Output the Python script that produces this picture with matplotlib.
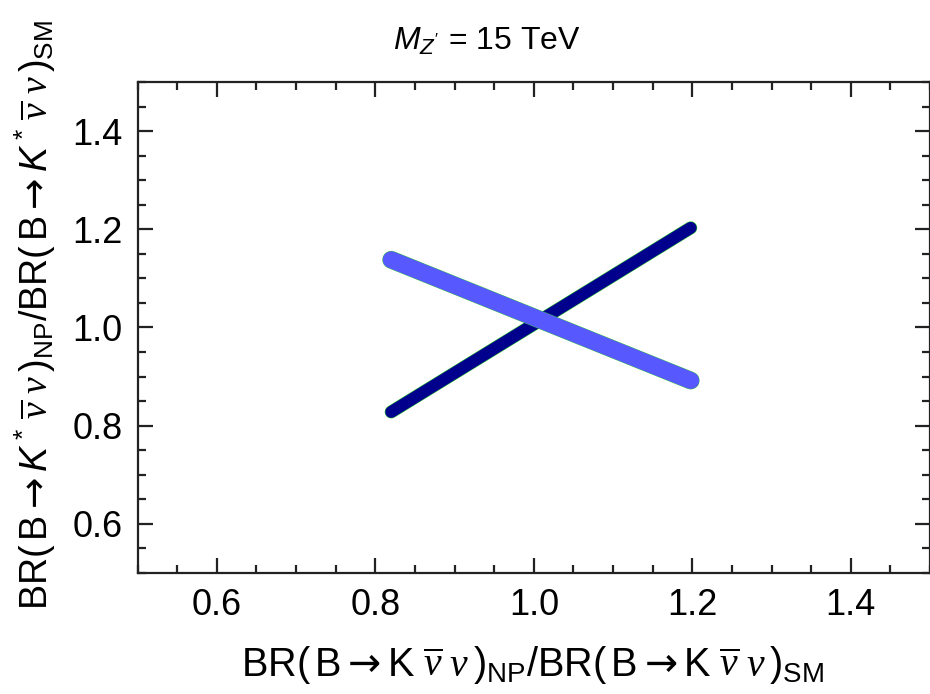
import matplotlib
matplotlib.use("Agg")
import matplotlib.pyplot as plt
from matplotlib.ticker import MultipleLocator

plt.rcParams['font.family'] = ['Liberation Sans', 'DejaVu Sans']
plt.rcParams['mathtext.fontset'] = 'custom'
plt.rcParams['mathtext.rm'] = 'Liberation Sans'
plt.rcParams['mathtext.sf'] = 'Liberation Sans'
plt.rcParams['mathtext.it'] = 'Liberation Sans:italic'
plt.rcParams['mathtext.bf'] = 'Liberation Sans:bold'
plt.rcParams['mathtext.cal'] = 'Liberation Serif:italic'
plt.rcParams['mathtext.tt'] = 'DejaVu Sans'

# Endpoints of the two allowed bands (ratios NP/SM)
kstar_band_x = [0.82, 1.198]   # dark band
kstar_band_y = [0.828, 1.203]
k_band_x = [0.82, 1.198]       # light band
k_band_y = [1.138, 0.892]

x_ticks = [0.6, 0.8, 1.0, 1.2, 1.4]
y_ticks = [0.6, 0.8, 1.0, 1.2, 1.4]

fig = plt.figure(figsize=(9.3, 6.94), dpi=100)
ax = fig.add_axes([0.148, 0.1744, 0.852, 0.7074])

green = '#33cc33'
dark = '#00008c'
light = '#5858ff'

# green underlay, then dark band, then light band on top
ax.plot(kstar_band_x, kstar_band_y, color=green, lw=9.4, solid_capstyle='round', zorder=2)
ax.plot(kstar_band_x, kstar_band_y, color=dark, lw=8.6, solid_capstyle='round', zorder=3)
ax.plot(k_band_x, k_band_y, color=green, lw=12.8, solid_capstyle='round', zorder=4)
ax.plot(k_band_x, k_band_y, color=light, lw=12.2, solid_capstyle='round', zorder=5)

ax.set_xlim(0.5, 1.5)
ax.set_ylim(0.5, 1.5)
ax.set_xticks(x_ticks)
ax.set_yticks(y_ticks)
ax.set_xticklabels([f"{v:.1f}" for v in x_ticks])
ax.set_yticklabels([f"{v:.1f}" for v in y_ticks])
ax.xaxis.set_minor_locator(MultipleLocator(0.05))
ax.yaxis.set_minor_locator(MultipleLocator(0.05))
ax.tick_params(which='both', direction='in', top=True, right=True, width=1.6, color='#222222')
ax.tick_params(which='major', length=11, labelsize=26, pad=11)
ax.tick_params(which='minor', length=6)
for s in ax.spines.values():
    s.set_linewidth(1.6)
    s.set_color('#222222')

fig.text(0.524, 0.94, r"$M_{Z'}$ = 15 TeV", ha='center', va='center', fontsize=23)

arrow = r"\mathtt{\rightarrow}"
xlab = (r"BR$(\,$B$" + arrow + r"$K$\;\overline{\mathcal{\nu}}\;\mathcal{\nu}\,)_{\rm NP}$"
        r"/BR$(\,$B$" + arrow + r"$K$\;\overline{\mathcal{\nu}}\;\mathcal{\nu}\,)_{\rm SM}$")
ylab = (r"BR$(\,$B$" + arrow + r"K^*\,\overline{\mathcal{\nu}}\;\mathcal{\nu}\,)_{\rm NP}$"
        r"/BR$(\,$B$" + arrow + r"K^*\,\overline{\mathcal{\nu}}\;\mathcal{\nu}\,)_{\rm SM}$")
fig.text(0.573, 0.042, xlab, ha='center', va='center', fontsize=28.5)
fig.text(0.038, 0.546, ylab, ha='center', va='center', rotation=90, fontsize=27)

fig.savefig("out.png", dpi=100)
